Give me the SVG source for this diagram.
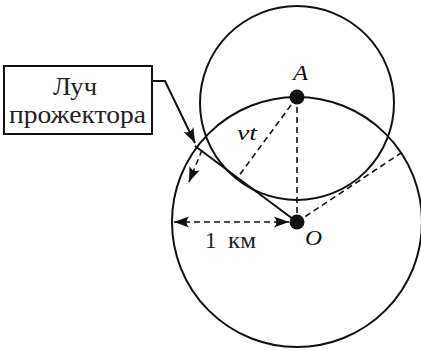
<svg xmlns="http://www.w3.org/2000/svg" width="421" height="351" viewBox="0 0 421 351">
<style>
.c{fill:none;stroke:#111;stroke-width:2}
.d{fill:none;stroke:#111;stroke-width:1.6;stroke-dasharray:6 4}
.s{fill:none;stroke:#111;stroke-width:2}
.dot{fill:#111}
.t{font-family:'Liberation Serif','DejaVu Serif',serif;fill:#222}
.i{font-family:'Liberation Serif','DejaVu Serif',serif;font-style:italic;fill:#111}
</style>
<defs>
<marker id="ah" viewBox="-16 -6 17 12" refX="0" refY="0" markerWidth="17" markerHeight="12" markerUnits="userSpaceOnUse" orient="auto-start-reverse">
<path d="M0,0 L-15,-5.5 Q-10,0 -15,5.5 Z" fill="#111" stroke="none"/>
</marker>
</defs>
<g id="circles">
<circle id="big-circle" class="c" cx="297" cy="222" r="125"/>
<circle id="small-circle" class="c" cx="297" cy="103" r="97"/>
</g>
<g id="connectors">
<line class="d" x1="297" y1="97" x2="297" y2="222"/>
<line class="d" x1="297" y1="97" x2="238" y2="177"/>
<line class="d" x1="297" y1="222" x2="401" y2="153"/>
<line id="beam" class="s" x1="195" y1="146" x2="297" y2="222"/>
<line class="d" x1="202" y1="150" x2="189" y2="182" marker-end="url(#ah)"/>
<line class="d" x1="174" y1="222" x2="289" y2="222" marker-start="url(#ah)" marker-end="url(#ah)"/>
<polyline class="s" points="152,81 165,81 195,143" marker-end="url(#ah)"/>
</g>
<g id="node-A">
<circle class="dot" cx="297" cy="97" r="7.5"/>
<text class="i" x="293" y="80" font-size="22" textLength="15" lengthAdjust="spacingAndGlyphs">A</text>
</g>
<g id="node-O">
<circle class="dot" cx="297" cy="222" r="7.5"/>
<text class="i" x="305" y="245" font-size="22" textLength="17" lengthAdjust="spacingAndGlyphs">O</text>
</g>
<g id="label-vt">
<text class="i" x="237" y="140" font-size="22" textLength="20" lengthAdjust="spacingAndGlyphs">vt</text>
</g>
<g id="label-1km">
<text class="t" x="205" y="248" font-size="23">1</text>
<text class="t" x="228" y="248" font-size="23" textLength="28" lengthAdjust="spacingAndGlyphs">км</text>
</g>
<g id="node-label">
<rect x="4" y="66" width="148" height="68" fill="#fff" stroke="#111" stroke-width="2"/>
<text class="t" x="53" y="95" font-size="25" textLength="44" lengthAdjust="spacingAndGlyphs">Луч</text>
<text class="t" x="9" y="123" font-size="25" textLength="137" lengthAdjust="spacingAndGlyphs">прожектора</text>
</g>
</svg>
